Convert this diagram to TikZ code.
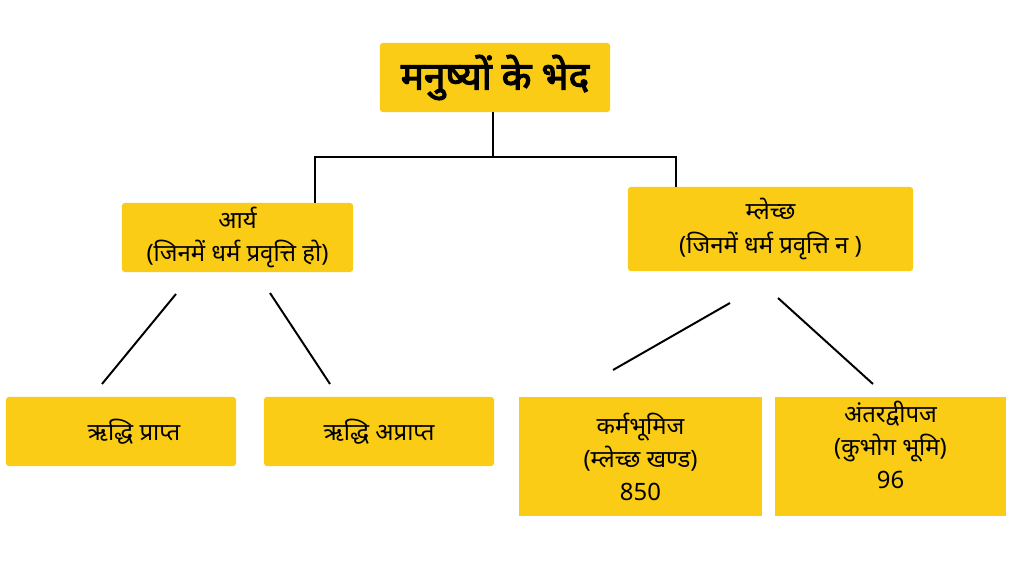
\documentclass[tikz,border=0pt]{standalone}
\usepackage{fontspec}
\newfontfamily\deva[Script=Devanagari]{Noto Sans}
\newfontfamily\devabold[Script=Devanagari,FakeBold=3]{Noto Sans}
\usepackage{tikz}
\definecolor{boxyellow}{RGB}{250,204,21}
\tikzset{
  box/.style={fill=boxyellow, rounded corners=2pt, inner sep=0pt, align=center,
    font=\deva\fontsize{17}{23.5}\selectfont},
  sqbox/.style={box, sharp corners},
  link/.style={line width=1.4pt}
}
\begin{document}
\begin{tikzpicture}[x=0.025cm, y=-0.025cm]
\useasboundingbox (0,0) rectangle (1024,576);

\node[box, minimum width=5.75cm, minimum height=1.725cm,
  font=\devabold\fontsize{27.5}{30}\selectfont] (title) at (495,77.5) {मनुष्यों के भेद};
\node[box, minimum width=5.775cm, minimum height=1.725cm] (aarya) at (237.5,237.5)
  {आर्य\\(जिनमें धर्म प्रवृत्ति हो)};
\node[box, minimum width=7.125cm, minimum height=2.1cm] (mlechh) at (770.5,229)
  {म्लेच्छ\\(जिनमें धर्म प्रवृत्ति न )};

\node[box, minimum width=5.75cm, minimum height=1.725cm] (rprapt) at (121,431.5) {};
\node[font=\deva\fontsize{17}{23.5}\selectfont] (rpraptText) at (134,431.5) {ऋद्धि प्राप्त};
\node[box, minimum width=5.75cm, minimum height=1.725cm] (raprapt) at (379,431.5) {ऋद्धि अप्राप्त};

\node[sqbox, minimum width=6.075cm, minimum height=2.975cm] (karma) at (640.5,456.5)
  {कर्मभूमिज\\(म्लेच्छ खण्ड)\\850};
\node[sqbox, minimum width=5.775cm, minimum height=2.975cm] (antar) at (890.5,456.5) {};
\node[align=center, font=\deva\fontsize{17}{23.5}\selectfont] (antarText) at (890.5,445)
  {अंतरद्वीपज\\(कुभोग भूमि)\\96};

% branch points
\coordinate (split) at (493,157);
\coordinate (lbranch) at (315,157);
\coordinate (rbranch) at (676,157);

\draw[link] (title.south -| split) -- (split);
\draw[link] (aarya.north -| lbranch) |- (split);
\draw[link] (mlechh.north -| rbranch) |- (split);

% free strokes under the second row
\coordinate (A1) at (176,294);
\coordinate (A2) at (102,384);
\coordinate (A3) at (270,293);
\coordinate (A4) at (330,384);
\coordinate (M1) at (730,303);
\coordinate (M2) at (613,370);
\coordinate (M3) at (778,298);
\coordinate (M4) at (873,384);

\draw[link] (A1) -- (A2);
\draw[link] (A3) -- (A4);
\draw[link] (M1) -- (M2);
\draw[link] (M3) -- (M4);
\end{tikzpicture}
\end{document}
